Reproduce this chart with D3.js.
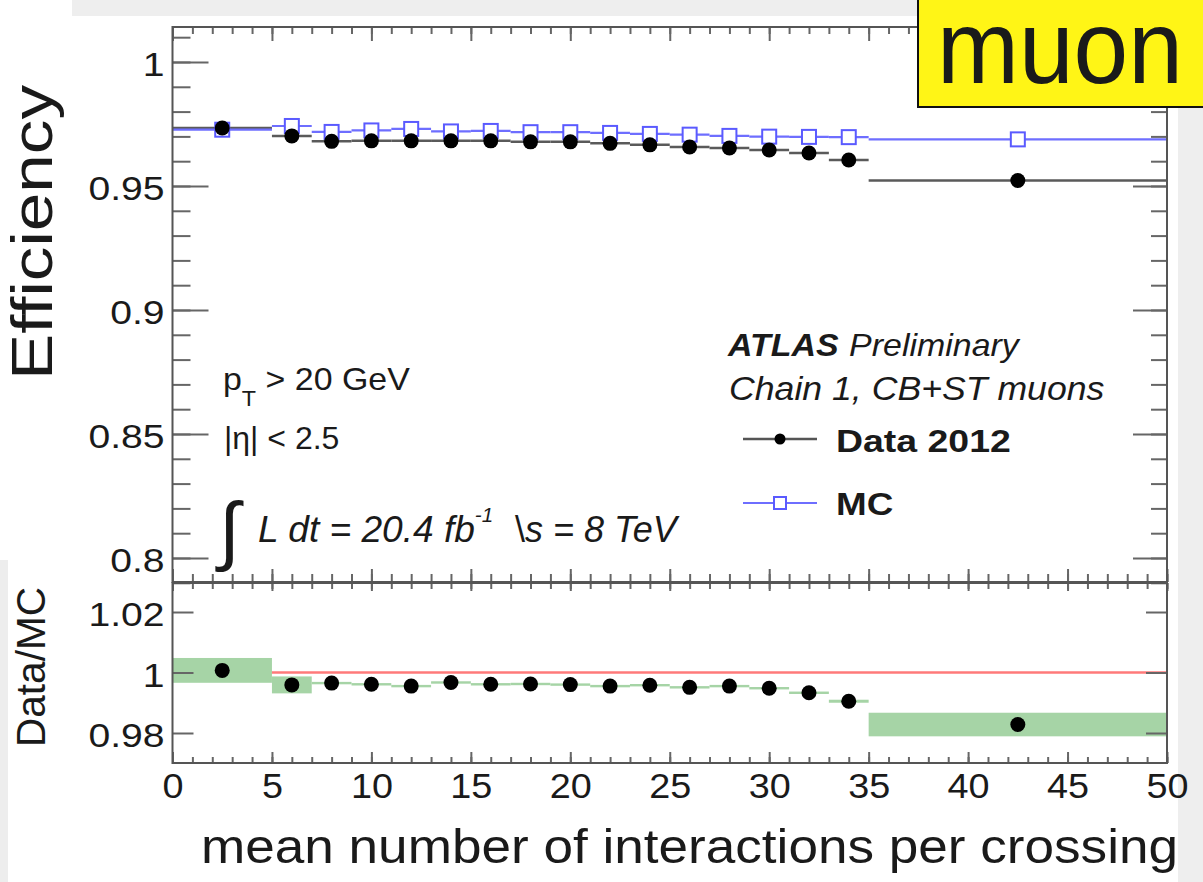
<!DOCTYPE html>
<html>
<head>
<meta charset="utf-8">
<script src="https://cdn.jsdelivr.net/npm/d3@7"></script>
<style>
  body { margin: 0; background: #fff; }
  svg { display: block; }
  text { font-family: "Liberation Sans", Arial, Helvetica, sans-serif; fill: #1a1a1a; }
</style>
</head>
<body>
<script>
// bins of mean number of interactions per crossing
const binLow = [0, 5, 7, 9, 11, 13, 15, 17, 19, 21, 23, 25, 27, 29, 31, 33, 35]
const binHigh = [5, 7, 9, 11, 13, 15, 17, 19, 21, 23, 25, 27, 29, 31, 33, 35, 50]
const binCenter = [2.5, 6, 8, 10, 12, 14, 16, 18, 20, 22, 24, 26, 28, 30, 32, 34, 42.5]

// efficiencies
const dataEff = [0.9734, 0.9702, 0.9680, 0.9682, 0.9682, 0.9682, 0.9682, 0.9678, 0.9678,
  0.9672, 0.9666, 0.9657, 0.9653, 0.9645, 0.9633, 0.9605, 0.9522]
const mcEff = [0.9727, 0.9742, 0.9718, 0.9724, 0.9730, 0.9720, 0.9722, 0.9717, 0.9717,
  0.9714, 0.9710, 0.9707, 0.9702, 0.9699, 0.9698, 0.9697, 0.9688]

// Data/MC ratio and its uncertainty (half width)
const ratio = [1.0007, 0.9959, 0.9965, 0.9961, 0.9955, 0.9967, 0.9961, 0.9962, 0.9960,
  0.9955, 0.9958, 0.9951, 0.9955, 0.9948, 0.9933, 0.9905, 0.9828]
const ratioErr = [0.0041, 0.0028, 0.0004, 0.0004, 0.0004, 0.0004, 0.0004, 0.0004, 0.0004,
  0.0004, 0.0004, 0.0004, 0.0004, 0.0004, 0.0004, 0.0005, 0.0039]

// axis ticks
const xMajor = [0, 5, 10, 15, 20, 25, 30, 35, 40, 45, 50]
const xMinor = d3.range(0, 51, 1)
const effMajor = [0.8, 0.85, 0.9, 0.95, 1]
const effMinor = [0.79, 0.80, 0.81, 0.82, 0.83, 0.84, 0.85, 0.86, 0.87, 0.88, 0.89, 0.90,
  0.91, 0.92, 0.93, 0.94, 0.95, 0.96, 0.97, 0.98, 0.99, 1.00, 1.01]
const ratioMajor = [0.98, 1, 1.02]

const W = 1203, H = 882
const left = 172.5, right = 1167
const top1 = 27, bot1 = 582
const top2 = 583, bot2 = 763

const svg = d3.select('body').append('svg')
  .attr('width', W)
  .attr('height', H)

// page background: grey border strips like the screenshot
svg.append('rect').attr('width', W).attr('height', H).attr('fill', '#eeeeee')
svg.append('rect').attr('x', 0).attr('y', 16).attr('width', 1178).attr('height', H - 16).attr('fill', '#fff')
svg.append('rect').attr('x', 0).attr('y', 0).attr('width', 72).attr('height', 16).attr('fill', '#fff')
svg.append('rect').attr('x', 0).attr('y', 560).attr('width', 8).attr('height', H - 560).attr('fill', '#ededed')

const x = d3.scaleLinear().domain([0, 50]).range([left, right])
const y = d3.scaleLinear().domain([0.79032, 1.01411]).range([bot1, top1])
const yr = d3.scaleLinear().domain([0.97008, 1.02959]).range([bot2, top2])

const idx = d3.range(binCenter.length)

function stretch(sel, k) {
  sel.each(function() {
    const w = this.getComputedTextLength()
    d3.select(this).attr('textLength', w * k).attr('lengthAdjust', 'spacingAndGlyphs')
  })
}

function ticks(g) {
  g.select('.domain').remove()
  g.selectAll('line').attr('stroke', '#666').attr('stroke-width', 2)
}

// ---------- top panel ----------
const topG = svg.append('g')

topG.append('g').selectAll('line')
  .data(idx).join('line')
  .attr('x1', i => x(binLow[i])).attr('x2', i => x(binHigh[i]))
  .attr('y1', i => y(dataEff[i])).attr('y2', i => y(dataEff[i]))
  .attr('stroke', '#5a5a5a').attr('stroke-width', 2.5)

topG.append('g').selectAll('line')
  .data(idx).join('line')
  .attr('x1', i => x(binLow[i])).attr('x2', i => x(binHigh[i]))
  .attr('y1', i => y(mcEff[i])).attr('y2', i => y(mcEff[i]))
  .attr('stroke', '#6e6eff').attr('stroke-width', 2.2)

topG.append('g').selectAll('rect')
  .data(idx).join('rect')
  .attr('x', i => x(binCenter[i]) - 7).attr('y', i => y(mcEff[i]) - 7)
  .attr('width', 14).attr('height', 14)
  .attr('fill', '#fff').attr('stroke', '#5a5aff').attr('stroke-width', 2)

topG.append('g').selectAll('circle')
  .data(idx).join('circle')
  .attr('cx', i => x(binCenter[i])).attr('cy', i => y(dataEff[i]))
  .attr('r', 7.5).attr('fill', '#000')

// top panel ticks
svg.append('g').attr('transform', `translate(0,${top1})`)
  .call(d3.axisBottom(x).tickValues(xMinor).tickSize(7).tickFormat('')).call(ticks)
svg.append('g').attr('transform', `translate(0,${top1})`)
  .call(d3.axisBottom(x).tickValues(xMajor).tickSize(14).tickFormat('')).call(ticks)
svg.append('g').attr('transform', `translate(0,${bot1})`)
  .call(d3.axisTop(x).tickValues(xMinor).tickSize(8).tickFormat('')).call(ticks)
svg.append('g').attr('transform', `translate(0,${bot1})`)
  .call(d3.axisTop(x).tickValues(xMajor).tickSize(13).tickFormat('')).call(ticks)
svg.append('g').attr('transform', `translate(${left},0)`)
  .call(d3.axisRight(y).tickValues(effMinor).tickSize(18).tickFormat('')).call(ticks)
svg.append('g').attr('transform', `translate(${left},0)`)
  .call(d3.axisRight(y).tickValues(effMajor).tickSize(36).tickFormat('')).call(ticks)
svg.append('g').attr('transform', `translate(${right},0)`)
  .call(d3.axisLeft(y).tickValues(effMinor).tickSize(16).tickFormat('')).call(ticks)
svg.append('g').attr('transform', `translate(${right},0)`)
  .call(d3.axisLeft(y).tickValues(effMajor).tickSize(34).tickFormat('')).call(ticks)

const effLabels = svg.append('g').attr('transform', `translate(${left},3)`)
  .call(d3.axisLeft(y).tickValues(effMajor).tickSize(0).tickPadding(8).tickFormat(d3.format('')))
effLabels.select('.domain').remove()
effLabels.selectAll('text').attr('font-size', 34).attr('fill', '#222')
  .style('font-family', '"Liberation Sans", Arial, sans-serif')
stretch(effLabels.selectAll('text'), 1.15)

// ---------- ratio panel ----------
const bottomG = svg.append('g')

bottomG.append('line')
  .attr('x1', x(0)).attr('x2', x(50))
  .attr('y1', yr(1)).attr('y2', yr(1))
  .attr('stroke', '#ff7a7a').attr('stroke-width', 2.5)

bottomG.append('g').selectAll('rect')
  .data(idx).join('rect')
  .attr('x', i => x(binLow[i]))
  .attr('width', i => x(binHigh[i]) - x(binLow[i]))
  .attr('y', i => yr(ratio[i] + ratioErr[i]))
  .attr('height', i => Math.max(2.4, yr(ratio[i] - ratioErr[i]) - yr(ratio[i] + ratioErr[i])))
  .attr('fill', '#a6d4a6')

bottomG.append('g').selectAll('circle')
  .data(idx).join('circle')
  .attr('cx', i => x(binCenter[i])).attr('cy', i => yr(ratio[i]))
  .attr('r', 7.5).attr('fill', '#000')

svg.append('g').attr('transform', `translate(0,${top2})`)
  .call(d3.axisBottom(x).tickValues(xMinor).tickSize(6).tickFormat('')).call(ticks)
svg.append('g').attr('transform', `translate(0,${top2})`)
  .call(d3.axisBottom(x).tickValues(xMajor).tickSize(8).tickFormat('')).call(ticks)
svg.append('g').attr('transform', `translate(0,${bot2})`)
  .call(d3.axisTop(x).tickValues(xMinor).tickSize(6).tickFormat('')).call(ticks)
svg.append('g').attr('transform', `translate(0,${bot2})`)
  .call(d3.axisTop(x).tickValues(xMajor).tickSize(11).tickFormat('')).call(ticks)
svg.append('g').attr('transform', `translate(${left},0)`)
  .call(d3.axisRight(yr).tickValues(ratioMajor).tickSize(21).tickFormat('')).call(ticks)
svg.append('g').attr('transform', `translate(${right},0)`)
  .call(d3.axisLeft(yr).tickValues(ratioMajor).tickSize(21).tickFormat('')).call(ticks)

const ratioLabels = svg.append('g').attr('transform', `translate(${left},3)`)
  .call(d3.axisLeft(yr).tickValues(ratioMajor).tickSize(0).tickPadding(8).tickFormat(d3.format('')))
ratioLabels.select('.domain').remove()
ratioLabels.selectAll('text').attr('font-size', 34).attr('fill', '#222')
  .style('font-family', '"Liberation Sans", Arial, sans-serif')
stretch(ratioLabels.selectAll('text'), 1.15)

const xLabels = svg.append('g').attr('transform', `translate(0,${bot2})`)
  .call(d3.axisBottom(x).tickValues(xMajor).tickSize(0).tickPadding(10).tickFormat(d3.format('d')))
xLabels.select('.domain').remove()
xLabels.selectAll('text').attr('font-size', 35).attr('fill', '#222')
  .style('font-family', '"Liberation Sans", Arial, sans-serif')
stretch(xLabels.selectAll('text'), 1.08)

// frames
svg.append('rect').attr('x', left).attr('y', top1).attr('width', right - left).attr('height', bot1 - top1)
  .attr('fill', 'none').attr('stroke', '#555').attr('stroke-width', 2)
svg.append('rect').attr('x', left).attr('y', top2).attr('width', right - left).attr('height', bot2 - top2)
  .attr('fill', 'none').attr('stroke', '#555').attr('stroke-width', 2)

// ---------- texts ----------
svg.append('text')
  .attr('transform', 'translate(52,380) rotate(-90)')
  .attr('font-size', 58)
  .attr('textLength', 295).attr('lengthAdjust', 'spacingAndGlyphs')
  .attr('fill', '#111')
  .text('Efficiency')

svg.append('text')
  .attr('transform', 'translate(45,747) rotate(-90)')
  .attr('font-size', 41)
  .attr('textLength', 160).attr('lengthAdjust', 'spacingAndGlyphs')
  .attr('fill', '#222')
  .text('Data/MC')

svg.append('text')
  .attr('x', 201).attr('y', 863)
  .attr('font-size', 48)
  .attr('textLength', 977).attr('lengthAdjust', 'spacingAndGlyphs')
  .attr('fill', '#111')
  .text('mean number of interactions per crossing')

// selection notes
const pt = svg.append('text').attr('x', 223).attr('y', 390).attr('font-size', 32)
pt.append('tspan').text('p')
pt.append('tspan').attr('font-size', 22).attr('dy', 16).text('T')
pt.append('tspan').attr('dy', -16).text(' > 20 GeV')
stretch(pt, 1.06)

svg.append('text').attr('x', 224).attr('y', 449).attr('font-size', 32).text('|η| < 2.5')

svg.append('text').attr('x', 219).attr('y', 556).attr('font-size', 76)
  .attr('font-weight', 300)
  .style('font-family', '"DejaVu Sans", sans-serif').text('∫')
const lumi = svg.append('text').attr('x', 258).attr('y', 542).attr('font-size', 36).attr('font-style', 'italic')
lumi.append('tspan').text('L dt = 20.4 fb')
lumi.append('tspan').attr('font-size', 20).attr('dy', -20).text('-1')
stretch(lumi, 1.03)
svg.append('text').attr('x', 515).attr('y', 542).attr('font-size', 36)
  .append('tspan').text('\\')
  .append('tspan').attr('font-style', 'italic').text('s = 8 TeV')

// ATLAS label
const atlas = svg.append('text').attr('x', 728).attr('y', 356).attr('font-size', 32)
atlas.append('tspan').attr('font-weight', 'bold').attr('font-style', 'italic').text('ATLAS')
atlas.append('tspan').attr('font-style', 'italic').attr('dx', 10).text('Preliminary')
stretch(atlas, 1.1)

const chain = svg.append('text').attr('x', 729).attr('y', 400).attr('font-size', 33)
  .attr('font-style', 'italic').text('Chain 1, CB+ST muons')
stretch(chain, 1.08)

// legend
const leg = svg.append('g')
leg.append('line').attr('x1', 743).attr('x2', 817).attr('y1', 439).attr('y2', 439)
  .attr('stroke', '#555').attr('stroke-width', 2.5)
leg.append('circle').attr('cx', 780).attr('cy', 439).attr('r', 5.5).attr('fill', '#000')
const legData = leg.append('text').attr('x', 836).attr('y', 452).attr('font-size', 32)
  .attr('font-weight', 'bold').text('Data 2012')
stretch(legData, 1.17)

leg.append('line').attr('x1', 743).attr('x2', 817).attr('y1', 503).attr('y2', 503)
  .attr('stroke', '#6e6eff').attr('stroke-width', 2.2)
leg.append('rect').attr('x', 774).attr('y', 497).attr('width', 12).attr('height', 12)
  .attr('fill', '#fff').attr('stroke', '#5a5aff').attr('stroke-width', 2)
const legMc = leg.append('text').attr('x', 836).attr('y', 515).attr('font-size', 32)
  .attr('font-weight', 'bold').text('MC')
stretch(legMc, 1.15)

// yellow "muon" tag
svg.append('rect').attr('x', 918).attr('y', -5).attr('width', 300).attr('height', 112)
  .attr('fill', '#fff516').attr('stroke', '#111').attr('stroke-width', 2)
svg.append('text').attr('x', 937).attr('y', 83).attr('font-size', 104)
  .attr('textLength', 246).attr('lengthAdjust', 'spacingAndGlyphs')
  .attr('fill', '#141414')
  .text('muon')
</script>
</body>
</html>
